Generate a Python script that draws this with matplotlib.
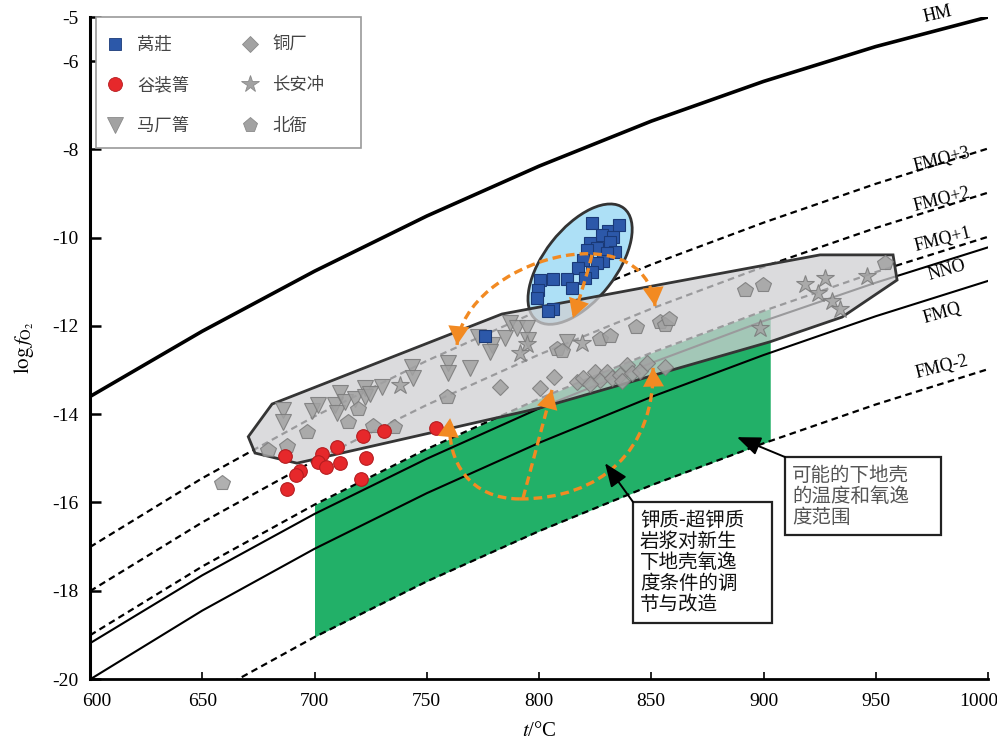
import numpy as np
import matplotlib
matplotlib.use("Agg")
import matplotlib.pyplot as plt
import matplotlib.transforms as mtransforms
from matplotlib.patches import Polygon, Rectangle, PathPatch, Ellipse
from matplotlib.path import Path
from matplotlib.lines import Line2D

plt.rcParams["font.family"] = ["Liberation Serif", "Noto Sans CJK SC", "DejaVu Sans"]
plt.rcParams["mathtext.fontset"] = "stix"
plt.rcParams["axes.unicode_minus"] = False
CJK = ["Noto Sans CJK SC", "DejaVu Sans"]

# ---- oxygen buffer curves: log fO2 tabulated every 50 °C ----
buffer_t = [600, 650, 700, 750, 800, 850, 900, 950, 1000]
hm_curve = [-13.60, -12.12, -10.76, -9.51, -8.38, -7.36, -6.46, -5.67, -5.00]
fmq_curve = [-20.01, -18.45, -17.05, -15.79, -14.65, -13.61, -12.66, -11.78, -10.98]
nno_curve = [-19.19, -17.65, -16.26, -15.01, -13.87, -12.84, -11.89, -11.02, -10.22]
fmq_shifts = [3, 2, 1, -2]

# ---- sample estimates: temperature (°C) and log fO2 ----
wozhuang_t = [823.5, 830.9, 835.8, 827.9, 833.1, 831.6, 822.7, 825.7, 821.2, 833.9,
              830.2, 828.6, 825.7, 819.7, 817.5, 823.5, 820.5, 812.3, 806.4, 800.4,
              814.6, 799.7, 799.0, 806.4, 804.1, 775.9]
wozhuang_fo2 = [-9.67, -9.86, -9.71, -9.94, -9.98, -10.09, -10.13, -10.24, -10.28, -10.32,
                -10.35, -10.54, -10.58, -10.51, -10.69, -10.77, -10.92, -10.94, -10.94, -10.96,
                -11.15, -11.19, -11.37, -11.62, -11.67, -12.23]

guzhuangqing_t = [686.9, 693.5, 691.8, 687.6, 703.2, 710.2, 701.7, 705.1, 711.4, 722.9,
                  720.6, 721.7, 731.0, 754.0]
guzhuangqing_fo2 = [-14.95, -15.29, -15.38, -15.70, -14.90, -14.74, -15.08, -15.20, -15.11, -14.99,
                    -15.47, -14.49, -14.38, -14.32]

machangqing_t = [686.0, 686.0, 698.9, 701.6, 709.1, 711.4, 710.0, 713.6, 718.0, 722.5,
                 722.5, 730.1, 724.7, 743.4, 743.9, 759.5, 759.5, 769.3, 772.8, 779.1,
                 778.2, 784.9, 787.1, 790.2, 794.7, 795.1, 812.5]
machangqing_fo2 = [-13.90, -14.18, -13.93, -13.79, -13.79, -13.52, -13.97, -13.72, -13.65, -13.41,
                   -13.61, -13.38, -13.54, -12.93, -13.18, -12.84, -13.07, -12.95, -12.25, -12.43,
                   -12.59, -12.27, -11.93, -12.05, -12.05, -12.32, -12.37]

tongchang_t = [782.6, 800.4, 806.7, 816.9, 819.6, 824.9, 827.2, 830.3, 832.5, 836.1,
               839.2, 841.4, 837.0, 845.0, 848.1, 856.1, 822.7]
tongchang_fo2 = [-13.38, -13.41, -13.16, -13.27, -13.18, -13.04, -13.22, -13.04, -13.18, -13.11,
                 -12.88, -13.07, -13.25, -13.02, -12.84, -12.93, -13.31]

changanchong_t = [738.1, 794.7, 791.5, 819.2, 918.5, 927.4, 924.3, 930.5, 934.1, 946.1, 898.4]
changanchong_fo2 = [-13.34, -12.41, -12.61, -12.39, -11.06, -10.92, -11.25, -11.43, -11.61, -10.87, -12.05]

beiya_t = [658.8, 679.3, 687.8, 696.7, 714.9, 719.4, 726.1, 735.4, 759.0, 808.0,
           810.2, 827.2, 831.6, 843.2, 853.9, 856.1, 857.9, 891.8, 899.8, 954.1]
beiya_fo2 = [-15.56, -14.81, -14.72, -14.40, -14.18, -13.88, -14.27, -14.29, -13.61, -12.52,
             -12.57, -12.30, -12.23, -12.02, -11.91, -11.98, -11.84, -11.19, -11.07, -10.57]

# ---- envelope of the porphyry samples (T, log fO2) ----
envelope_t = [670.5, 681.1, 783.5, 925.2, 957.7, 959.5, 935.0, 902.9, 800.4, 692.2, 673.5]
envelope_fo2 = [-14.51, -13.77, -11.73, -10.39, -10.39, -10.96, -11.80, -12.36, -13.86, -15.11, -14.88]

# lower-crust field: temperature span, bounded by FMQ-2 and FMQ+1
crust_t_range = [700, 903]
crust_shift_low, crust_shift_high = -2, 1

tick_y = [-20, -18, -16, -14, -12, -10, -8, -6, -5]
tick_x = [600, 650, 700, 750, 800, 850, 900, 950, 1000]

ORANGE = "#f28a22"
GREEN = "#22b068"

fig = plt.figure(figsize=(9.97, 7.44), dpi=100)
ax = fig.add_axes([90 / 997, 1 - 679 / 744, 898 / 997, 662 / 744])
ax.set_xlim(600, 1000)
ax.set_ylim(-20, -5)

bt = np.array(buffer_t, float)
fmq = np.array(fmq_curve)

# lower crust field
ct = np.concatenate([[crust_t_range[0]], bt[(bt > crust_t_range[0]) & (bt < crust_t_range[1])],
                     [crust_t_range[1]]])
fmq_ct = np.interp(ct, bt, fmq)
ax.fill_between(ct, fmq_ct + crust_shift_low, fmq_ct + crust_shift_high,
                color=GREEN, lw=0, zorder=1)

# buffers
ax.plot(bt, hm_curve, color="black", lw=2.6, zorder=2, solid_capstyle="butt")
ax.plot(bt, nno_curve, color="black", lw=1.5, zorder=2)
ax.plot(bt, fmq, color="black", lw=1.5, zorder=2)
for s in fmq_shifts:
    ax.plot(bt, fmq + s, color="black", lw=1.6, ls=(0, (3, 2)), zorder=2)

lab_kw = dict(fontsize=13, ha="center", va="center", clip_on=False, zorder=3,
              family="Liberation Serif")
ax.text(977.7, -4.95, "HM", rotation=13, **lab_kw)
ax.text(979.5, -8.24, "FMQ+3", rotation=14, **lab_kw)
ax.text(979.5, -9.15, "FMQ+2", rotation=14, **lab_kw)
ax.text(980.0, -10.05, "FMQ+1", rotation=14, **lab_kw)
ax.text(981.7, -10.73, "NNO", rotation=16, **lab_kw)
ax.text(979.5, -11.71, "FMQ", rotation=16, **lab_kw)
ax.text(979.5, -12.93, "FMQ-2", rotation=14, **lab_kw)

# ellipse around the 莴莊 samples (size in inches, centred in data space)
ell_trans = fig.dpi_scale_trans + mtransforms.ScaledTranslation(818.3, -10.60, ax.transData)
ax.add_patch(Ellipse((0, 0), 1.42, 0.72, angle=52, transform=ell_trans,
                     facecolor="#ade0f6", edgecolor="#333333", lw=2.0, zorder=3))

# envelope polygon
ax.add_patch(Polygon(np.column_stack([envelope_t, envelope_fo2]), closed=True,
                     facecolor="#cfcfd2", alpha=0.75, edgecolor="none", zorder=4))
ax.add_patch(Polygon(np.column_stack([envelope_t, envelope_fo2]), closed=True,
                     facecolor="none", edgecolor="#353535", lw=2.0, zorder=4.1))

# samples
gray_kw = dict(ls="none", mfc="#a2a2a2", mec="#7a7a7a", mew=0.8, alpha=0.85, zorder=5)
ax.plot(machangqing_t, machangqing_fo2, marker="v", ms=11.5, **gray_kw)
ax.plot(tongchang_t, tongchang_fo2, marker="D", ms=8.2, **gray_kw)
ax.plot(beiya_t, beiya_fo2, marker="p", ms=11.5, **gray_kw)
ax.plot(changanchong_t, changanchong_fo2, marker="*", ms=13.5, **gray_kw)
ax.plot(guzhuangqing_t, guzhuangqing_fo2, marker="o", ms=9.8, ls="none",
        mfc="#e6282b", mec="#b51d20", mew=0.8, zorder=5.2)
ax.plot(wozhuang_t, wozhuang_fo2, marker="s", ms=8.8, ls="none",
        mfc="#2c58a9", mec="#1a3a78", mew=0.8, zorder=5.3)

# orange dashed paths with arrow heads
dash_kw = dict(facecolor="none", edgecolor=ORANGE, lw=2.4, ls=(0, (2.6, 1.5)), zorder=6,
               capstyle="butt")
head_kw = dict(arrowstyle="-|>,head_length=0.75,head_width=0.42", color=ORANGE, lw=0,
               mutation_scale=18, shrinkA=0, shrinkB=0)
C4 = [Path.MOVETO, Path.CURVE4, Path.CURVE4, Path.CURVE4]
C3 = [Path.MOVETO, Path.CURVE3, Path.CURVE3]
orange_paths = [
    ([(763.5, -12.43), (767.0, -10.51), (847.2, -9.37), (851.7, -11.55)], C4, [True, True]),
    ([(823.6, -10.39), (821.0, -10.95), (815.1, -11.82)], C3, [False, True]),
    ([(791.5, -15.92), (769.3, -15.92), (758.6, -15.08), (760.4, -14.09)], C4, [False, True]),
    ([(791.5, -15.92), (827.2, -15.92), (851.7, -14.81), (850.8, -12.95)], C4, [False, True]),
    ([(792.9, -15.90), (805.8, -13.45)], [Path.MOVETO, Path.LINETO], [False, True]),
]
for pts, codes, heads in orange_paths:
    ax.add_patch(PathPatch(Path(pts, codes), **dash_kw))
    if heads[1]:
        ax.annotate("", xy=pts[-1], xytext=pts[-2], arrowprops=head_kw, zorder=6.1)
    if heads[0]:
        ax.annotate("", xy=pts[0], xytext=pts[1], arrowprops=head_kw, zorder=6.1)

# annotation boxes
blk = dict(arrowstyle="-|>,head_length=0.8,head_width=0.32", color="black", lw=1.4,
           mutation_scale=18, shrinkA=0, shrinkB=0)
box1 = (0.6047, 0.0846, 0.7595 - 0.6047, 0.2674 - 0.0846)
box2 = (0.7739, 0.2175, 0.9477 - 0.7739, 0.3353 - 0.2175)
for (x0, y0, w, h) in (box1, box2):
    ax.add_patch(Rectangle((x0, y0), w, h, transform=ax.transAxes, facecolor="white",
                           edgecolor="#222222", lw=1.6, zorder=7))
ax.text(0.6125, 0.2555, "钾质-超钾质\n岩浆对新生\n下地壳氧逸\n度条件的调\n节与改造",
        transform=ax.transAxes, ha="left", va="top", fontsize=14, family=CJK,
        linespacing=1.0, color="#111111", zorder=7.1)
ax.text(0.7817, 0.3230, "可能的下地壳\n的温度和氧逸\n度范围",
        transform=ax.transAxes, ha="left", va="top", fontsize=14, family=CJK,
        linespacing=1.0, color="#555555", zorder=7.1)
ax.annotate("", xy=(829.4, -15.11), xytext=(box1[0], box1[1] + box1[3]),
            xycoords="data", textcoords="axes fraction", arrowprops=blk, zorder=7.2)
ax.annotate("", xy=(888.2, -14.52), xytext=(box2[0], box2[1] + box2[3]),
            xycoords="data", textcoords="axes fraction", arrowprops=blk, zorder=7.2)

# axes styling
for side in ("top", "right"):
    ax.spines[side].set_visible(False)
ax.spines["left"].set_linewidth(2.2)
ax.spines["bottom"].set_linewidth(2.0)
ax.set_yticks(tick_y)
ax.set_yticklabels([str(v) for v in tick_y])
ax.set_xticks(tick_x)
ax.set_xticklabels([str(v) for v in tick_x])
ax.tick_params(axis="y", direction="in", length=8, width=1.8, labelsize=14, pad=8)
ax.tick_params(axis="x", direction="in", length=5, width=1.2, labelsize=14, pad=10)
xlabels = ax.get_xticklabels()
xlabels[0].set_transform(xlabels[0].get_transform()
                         + mtransforms.ScaledTranslation(0.07, 0, fig.dpi_scale_trans))
xlabels[-1].set_transform(xlabels[-1].get_transform()
                          + mtransforms.ScaledTranslation(-0.09, 0, fig.dpi_scale_trans))
ax.set_xlabel(r"$t$/°C", fontsize=15, labelpad=9)
ax.set_ylabel(r"$\mathrm{log}\,f_{\mathrm{O_2}}$", fontsize=15, labelpad=12)

# legend (frame drawn separately)
handles = [
    Line2D([], [], ls="none", marker="s", ms=9, mfc="#2c58a9", mec="#1a3a78", mew=0.6),
    Line2D([], [], ls="none", marker="o", ms=10, mfc="#e6282b", mec="#b51d20", mew=0.6),
    Line2D([], [], ls="none", marker="v", ms=11, mfc="#a2a2a2", mec="#8a8a8a", mew=0.6),
    Line2D([], [], ls="none", marker="D", ms=8, mfc="#a2a2a2", mec="#8a8a8a", mew=0.6),
    Line2D([], [], ls="none", marker="*", ms=13, mfc="#a2a2a2", mec="#8a8a8a", mew=0.6),
    Line2D([], [], ls="none", marker="p", ms=11, mfc="#a2a2a2", mec="#8a8a8a", mew=0.6),
]
labels = ["莴莊", "谷装箐", "马厂箐", "铜厂", "长安冲", "北衙"]
ax.add_patch(Rectangle((6 / 898, 0.8021), (361 - 96) / 898, 1.0 - 0.8021,
                       transform=ax.transAxes, facecolor="white", edgecolor="#9a9a9a",
                       lw=1.2, clip_on=False, zorder=9))
leg = ax.legend(handles, labels, ncol=2, loc="upper left", bbox_to_anchor=(0.0220, 0.9713),
                borderaxespad=0, frameon=False,
                prop={"family": CJK, "size": 12.5}, handlelength=0.6, handletextpad=0.97,
                columnspacing=3.2, labelspacing=1.29, borderpad=0)
for t in leg.get_texts():
    t.set_color("#444444")
leg.set_zorder(10)

fig.savefig("out.png", dpi=100)
